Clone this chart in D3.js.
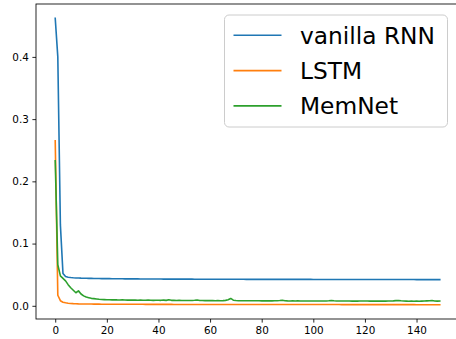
<!DOCTYPE html>
<html>
<head>
<meta charset="utf-8">
<script src="https://cdn.jsdelivr.net/npm/d3@7"></script>
<style>
  html, body { margin: 0; padding: 0; background: #fff; }
  svg { display: block; }
  text { font-family: "DejaVu Sans", sans-serif; }
</style>
</head>
<body>
<div id="chart"></div>
<script>
// Training loss per epoch for the three models
const seriesNames = ["vanilla RNN", "LSTM", "MemNet"];
const seriesColors = ["#1f77b4", "#ff7f0e", "#2ca02c"];

const rnnLoss = [
  0.462, 0.400, 0.130, 0.052, 0.047, 0.0460, 0.0455, 0.0451, 0.0448, 0.0446,
  0.0444, 0.0443, 0.0442, 0.0441, 0.0440, 0.0439, 0.0438, 0.0438, 0.0437, 0.0437,
  0.0436, 0.0436, 0.0435, 0.0435, 0.0434, 0.0434, 0.0434, 0.0433, 0.0433, 0.0433,
  0.0432, 0.0432, 0.0432, 0.0431, 0.0431, 0.0431, 0.0431, 0.0430, 0.0430, 0.0430,
  0.0430, 0.0430, 0.0429, 0.0429, 0.0429, 0.0429, 0.0429, 0.0428, 0.0428, 0.0428,
  0.0428, 0.0428, 0.0428, 0.0428, 0.0427, 0.0427, 0.0427, 0.0427, 0.0427, 0.0427,
  0.0427, 0.0427, 0.0427, 0.0426, 0.0426, 0.0426, 0.0426, 0.0426, 0.0426, 0.0426,
  0.0426, 0.0426, 0.0426, 0.0426, 0.0425, 0.0425, 0.0425, 0.0425, 0.0425, 0.0425,
  0.0425, 0.0425, 0.0425, 0.0425, 0.0425, 0.0425, 0.0424, 0.0424, 0.0424, 0.0424,
  0.0424, 0.0424, 0.0424, 0.0424, 0.0424, 0.0424, 0.0424, 0.0424, 0.0424, 0.0424,
  0.0423, 0.0423, 0.0423, 0.0423, 0.0423, 0.0423, 0.0423, 0.0423, 0.0423, 0.0423,
  0.0423, 0.0423, 0.0423, 0.0423, 0.0423, 0.0423, 0.0423, 0.0423, 0.0423, 0.0423,
  0.0422, 0.0422, 0.0422, 0.0422, 0.0422, 0.0422, 0.0422, 0.0422, 0.0422, 0.0422,
  0.0422, 0.0422, 0.0422, 0.0422, 0.0422, 0.0422, 0.0422, 0.0422, 0.0422, 0.0422,
  0.0421, 0.0421, 0.0421, 0.0421, 0.0421, 0.0421, 0.0421, 0.0421, 0.0421, 0.0421
];

const lstmLoss = [
  0.265, 0.017, 0.0082, 0.0058, 0.0048, 0.0042, 0.0038, 0.0035, 0.0033, 0.0031,
  0.0030, 0.0029, 0.0029, 0.0028, 0.0028, 0.0027, 0.0027, 0.0027, 0.0026, 0.0026,
  0.0026, 0.0026, 0.0025, 0.0025, 0.0025, 0.0025, 0.0025, 0.0024, 0.0024, 0.0024,
  0.0024, 0.0024, 0.0024, 0.0024, 0.0024, 0.0023, 0.0023, 0.0023, 0.0023, 0.0023,
  0.0023, 0.0023, 0.0023, 0.0023, 0.0023, 0.0023, 0.0022, 0.0022, 0.0022, 0.0022,
  0.0022, 0.0022, 0.0022, 0.0022, 0.0022, 0.0022, 0.0022, 0.0022, 0.0022, 0.0022,
  0.0022, 0.0022, 0.0022, 0.0021, 0.0021, 0.0021, 0.0021, 0.0021, 0.0021, 0.0021,
  0.0021, 0.0021, 0.0021, 0.0021, 0.0021, 0.0021, 0.0021, 0.0021, 0.0021, 0.0021,
  0.0021, 0.0021, 0.0021, 0.0021, 0.0021, 0.0020, 0.0020, 0.0020, 0.0020, 0.0020,
  0.0020, 0.0020, 0.0020, 0.0020, 0.0020, 0.0020, 0.0020, 0.0020, 0.0020, 0.0020,
  0.0020, 0.0020, 0.0020, 0.0020, 0.0020, 0.0020, 0.0020, 0.0020, 0.0020, 0.0020,
  0.0020, 0.0019, 0.0019, 0.0019, 0.0019, 0.0019, 0.0019, 0.0019, 0.0019, 0.0019,
  0.0019, 0.0019, 0.0019, 0.0019, 0.0019, 0.0019, 0.0019, 0.0019, 0.0019, 0.0019,
  0.0019, 0.0019, 0.0019, 0.0019, 0.0019, 0.0019, 0.0019, 0.0019, 0.0019, 0.0019,
  0.0018, 0.0018, 0.0018, 0.0018, 0.0018, 0.0018, 0.0018, 0.0018, 0.0018, 0.0018
];

const memnetLoss = [
  0.233, 0.066, 0.048, 0.044, 0.040, 0.034, 0.029, 0.025, 0.021, 0.024,
  0.019, 0.016, 0.014, 0.013, 0.012, 0.0115, 0.0110, 0.0105, 0.0102, 0.0100,
  0.0098, 0.0097, 0.0096, 0.0097, 0.0095, 0.0094, 0.0095, 0.0093, 0.0092, 0.0093,
  0.0091, 0.0092, 0.0090, 0.0091, 0.0089, 0.0090, 0.0094, 0.0089, 0.0088, 0.0089,
  0.0090, 0.0088, 0.0091, 0.0087, 0.0096, 0.0088, 0.0087, 0.0086, 0.0087, 0.0085,
  0.0086, 0.0085, 0.0086, 0.0084, 0.0088, 0.0093, 0.0085, 0.0084, 0.0083, 0.0084,
  0.0083, 0.0084, 0.0082, 0.0083, 0.0082, 0.0083, 0.0087, 0.0098, 0.0118, 0.0090,
  0.0084, 0.0082, 0.0081, 0.0082, 0.0081, 0.0080, 0.0081, 0.0080, 0.0082, 0.0080,
  0.0079, 0.0080, 0.0079, 0.0080, 0.0079, 0.0080, 0.0081, 0.0084, 0.0088, 0.0082,
  0.0079, 0.0078, 0.0079, 0.0078, 0.0079, 0.0078, 0.0077, 0.0078, 0.0077, 0.0078,
  0.0077, 0.0078, 0.0077, 0.0076, 0.0077, 0.0078, 0.0080, 0.0085, 0.0080, 0.0077,
  0.0076, 0.0077, 0.0076, 0.0077, 0.0076, 0.0075, 0.0076, 0.0075, 0.0076, 0.0077,
  0.0078, 0.0076, 0.0075, 0.0076, 0.0075, 0.0076, 0.0075, 0.0076, 0.0075, 0.0076,
  0.0077, 0.0079, 0.0083, 0.0086, 0.0080, 0.0076, 0.0075, 0.0074, 0.0075, 0.0074,
  0.0075, 0.0074, 0.0075, 0.0076, 0.0079, 0.0082, 0.0084, 0.0078, 0.0075, 0.0076
];

const xTicks = [0, 20, 40, 60, 80, 100, 120, 140];
const yTicks = [0.0, 0.1, 0.2, 0.3, 0.4];

const width = 456, height = 339;
const plot = { left: 36, top: 4, right: 459, bottom: 319 };

const series = [rnnLoss, lstmLoss, memnetLoss];

const svg = d3.select("#chart").append("svg")
  .attr("width", width).attr("height", height);

// Axis limits padded by 5% of the data span on each side
const nEpochs = rnnLoss.length;
const xPad = 0.05 * (nEpochs - 1);
const x = d3.scaleLinear()
  .domain([-xPad, nEpochs - 1 + xPad])
  .range([plot.left, plot.right]);

const allVals = series.flat();
const [yMin, yMax] = d3.extent(allVals);
const yPad = 0.05 * (yMax - yMin);
const y = d3.scaleLinear()
  .domain([yMin - yPad, yMax + yPad])
  .range([plot.bottom, plot.top]);

const tickFont = 10.4;

// Lines
const line = d3.line()
  .x((d, i) => x(i))
  .y(d => y(d));

svg.append("g")
  .selectAll("path")
  .data(series)
  .join("path")
  .attr("d", d => line(d))
  .attr("fill", "none")
  .attr("stroke", (d, i) => seriesColors[i])
  .attr("stroke-width", 1.6)
  .attr("stroke-linejoin", "round")
  .attr("stroke-linecap", "square");

// Axes
const xAxis = d3.axisBottom(x)
  .tickValues(xTicks)
  .tickFormat(d3.format("d"))
  .tickSize(3.6)
  .tickPadding(3.6);

const yAxis = d3.axisLeft(y)
  .tickValues(yTicks)
  .tickFormat(d3.format(".1f"))
  .tickSize(3.6)
  .tickPadding(3.6);

const gx = svg.append("g")
  .attr("transform", `translate(0,${plot.bottom})`)
  .call(xAxis);
const gy = svg.append("g")
  .attr("transform", `translate(${plot.left},0)`)
  .call(yAxis);

[gx, gy].forEach(g => {
  g.select(".domain").remove();
  g.selectAll(".tick line").attr("stroke", "#000").attr("stroke-width", 0.85);
  g.selectAll(".tick text")
    .attr("fill", "#000")
    .style("font-family", "'DejaVu Sans', sans-serif")
    .style("font-size", tickFont + "px");
});

// Frame around the plotting area
svg.append("rect")
  .attr("x", plot.left)
  .attr("y", plot.top)
  .attr("width", plot.right - plot.left)
  .attr("height", plot.bottom - plot.top)
  .attr("fill", "none")
  .attr("stroke", "#000")
  .attr("stroke-width", 0.85);

// Legend
const legFont = 23.3;
const legend = svg.append("g");
legend.append("rect")
  .attr("x", 224.5)
  .attr("y", 15)
  .attr("width", 223)
  .attr("height", 112)
  .attr("rx", 4.5)
  .attr("fill", "#fff")
  .attr("fill-opacity", 0.8)
  .attr("stroke", "#cccccc")
  .attr("stroke-width", 1);

const rows = legend.selectAll("g.row")
  .data(seriesNames)
  .join("g")
  .attr("class", "row")
  .attr("transform", (d, i) => `translate(0,${35.3 + i * 35.3})`);

rows.append("line")
  .attr("x1", 233.5).attr("x2", 281.5)
  .attr("y1", 0).attr("y2", 0)
  .attr("stroke", (d, i) => seriesColors[i])
  .attr("stroke-width", 1.6);

rows.append("text")
  .attr("x", 300)
  .attr("y", 0)
  .attr("dy", "0.36em")
  .attr("fill", "#000")
  .style("font-size", legFont + "px")
  .text(d => d);
</script>
</body>
</html>
